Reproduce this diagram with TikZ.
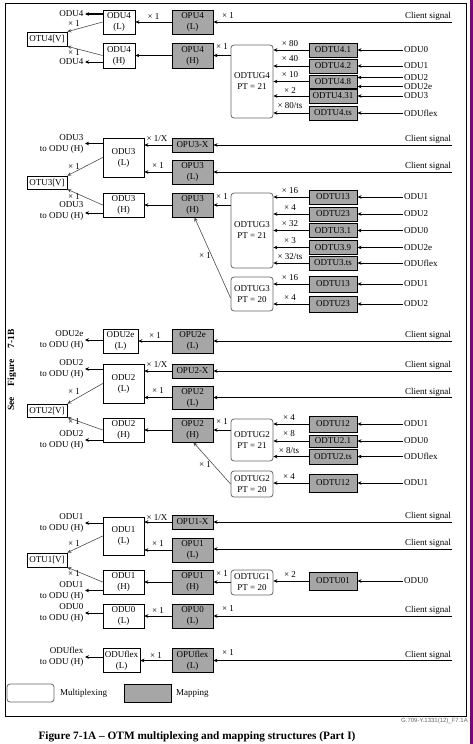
\documentclass[tikz,border=0pt]{standalone}
\usepackage{fontspec}
\setmainfont{Liberation Serif}
\newfontfamily\tagfont{Liberation Sans}
\usetikzlibrary{arrows.meta,positioning,calc}
\definecolor{mapgray}{RGB}{166,166,166}
\definecolor{edgepurple}{RGB}{128,0,128}
\newcommand{\fs}{\fontsize{9}{11}\selectfont}
\tikzset{
  odu/.style={draw,fill=white,align=center,inner sep=0pt,line width=0.7pt},
  opu/.style={odu,fill=mapgray,line width=1pt},
  odtug/.style={draw=black!60,rounded corners=3pt,align=center,inner sep=0pt,
                line width=0.8pt,minimum width=42pt},
  odtu/.style={opu,minimum width=48pt,minimum height=14pt},
  otu/.style={draw,inner sep=1pt,minimum width=40pt,minimum height=14pt,line width=0.7pt},
  ar/.style={-{Stealth[length=4pt,width=3.6pt]},line width=0.6pt},
  arb/.style={ar,line width=1.6pt},
  dg/.style={ar,draw=black!70},
  mul/.style={inner sep=0pt},
  sig/.style={anchor=south east,inner sep=1pt},
  inp/.style={anchor=west,inner sep=1.5pt},
  outp/.style={align=right,anchor=east,inner sep=1.5pt},
}

\begin{document}
\begin{tikzpicture}[x=1pt,y=-1pt,font=\fs]
    \useasboundingbox (0,0) rectangle (473,744);
    \draw[line width=0.8pt] (5,3) rectangle (466,716);
    \fill[edgepurple] (469.5,0) rectangle (473,744);

    % ODU4 branch
    \node[odu,minimum width=32pt,minimum height=24pt] (odu4l) at (119,22) {ODU4\\(L)};
    \node[opu,minimum width=41pt,minimum height=24pt] (opu4l) at (192.5,22) {OPU4\\(L)};
    \node[odu,minimum width=32pt,minimum height=25pt] (odu4h) at (119,55.5) {ODU4\\(H)};
    \node[opu,minimum width=41pt,minimum height=25pt] (opu4h) at (192.5,55.5) {OPU4\\(H)};
    \node[otu] (otu4) at (47,39) {OTU4[V]};
    \node[outp] (o4a) at (85,14) {ODU4};
    \node[outp] (o4b) at (85,62) {ODU4};
    \draw[arb] (odu4l.west |- o4a.east) -- (o4a.east);
    \draw[ar] (odu4h.west |- o4b.east) -- (o4b.east);
    \draw[dg] (odu4l.west) -- (otu4.north east);
    \draw[dg] (odu4h.west) -- (otu4.south east);
    \node[mul] (m4a) at (74,24) {× 1};
    \node[mul] (m4b) at (74,53) {× 1};
    \draw[ar] (opu4l) -- (odu4l) node[mul,midway,above=2pt] (m4c) {× 1};
    \draw[ar] (opu4h) -- (odu4h);
    \node[sig] (c4) at (452,22) {Client signal};
    \draw[ar] (c4.south east) -- (opu4l.east |- c4.south east);
    \node[mul] (m4d) at (228,16) {× 1};
    % ODTUG4
    \node[odtug,minimum height=73pt] (odtug4) at (252,81.5) {ODTUG4\\PT = 21};
    \draw[ar] (odtug4.west |- opu4h.east) -- (opu4h.east);
    \node[mul] (m4e) at (222,47) {× 1};
    \node[odtu] (odtu41) at (333,50) {ODTU4.1};
    \node[odtu] (odtu42) at (333,66) {ODTU4.2};
    \node[odtu,minimum height=13pt] (odtu48) at (333,81.5) {ODTU4.8};
    \node[odtu] (odtu431) at (333,96) {ODTU4.31};
    \node[odtu] (odtu4ts) at (333,113) {ODTU4.ts};
    \foreach \n/\m/\ly in {odtu41/{× 80}/44,odtu42/{× 40}/59,odtu48/{× 10}/75,
                           odtu431/{× 2}/91,odtu4ts/{× 80/ts}/106}{
      \draw[ar] (\n) -- (odtug4.east |- \n);
      \node[mul] (m-\n) at (290,\ly) {\m};
    }
    \node[inp] (i41) at (402.5,50) {ODU0};
    \node[inp] (i42) at (402.5,66) {ODU1};
    \node[inp] (i48a) at (402.5,77.5) {ODU2};
    \node[inp] (i48b) at (402.5,86.5) {ODU2e};
    \node[inp] (i431) at (402.5,96) {ODU3};
    \node[inp] (i4ts) at (402.5,113) {ODUflex};
    \foreach \i/\n in {i41/odtu41,i42/odtu42,i48a/odtu48,i48b/odtu48,i431/odtu431,i4ts/odtu4ts}
      \draw[ar] (\i.west) -- (\n.east |- \i.west);

    % ODU3 branch
    \node[odu,minimum width=41pt,minimum height=39pt] (odu3l) at (123.5,157.5) {ODU3\\(L)};
    \node[opu,minimum width=41pt,minimum height=14pt] (opu3x) at (192.5,145) {OPU3-X};
    \node[opu,minimum width=41pt,minimum height=24pt] (opu3l) at (192.5,172) {OPU3\\(L)};
    \node[odu,minimum width=41pt,minimum height=24pt] (odu3h) at (123.5,205) {ODU3\\(H)};
    \node[opu,minimum width=41pt,minimum height=24pt] (opu3h) at (192.5,205) {OPU3\\(H)};
    \node[otu,minimum height=13pt] (otu3) at (47,182.5) {OTU3[V]};
    \node[outp] (o3a) at (85,143.5) {ODU3\\to ODU (H)};
    \node[outp] (o3b) at (85,211) {ODU3\\to ODU (H)};
    \draw[ar] (odu3l.west |- o3a.east) -- (o3a.east);
    \draw[ar] (odu3h.west |- 0,213) -- (o3b.east |- 0,213);
    \draw[dg] (odu3l.west) -- (otu3.north east);
    \draw[dg] (odu3h.west) -- (otu3.south east);
    \node[mul] (m3a) at (74,167) {× 1};
    \node[mul] (m3b) at (74,197) {× 1};
    \draw[ar] (opu3x.west) -- (odu3l.east |- opu3x.west);
    \node[mul] (m3c) at (157,139) {× 1/X};
    \draw[ar] (opu3l.west) -- (odu3l.east |- opu3l.west);
    \node[mul] (m3d) at (158,166) {× 1};
    \draw[ar] (opu3h) -- (odu3h);
    \node[sig] (c3a) at (452,145) {Client signal};
    \node[sig] (c3b) at (452,172) {Client signal};
    \draw[ar] (c3a.south east) -- (opu3x.east |- c3a.south east);
    \draw[ar] (c3b.south east) -- (opu3l.east |- c3b.south east);
    % ODTUG3 (PT = 21)
    \node[odtug,minimum height=75pt] (odtug3a) at (252,230.5) {ODTUG3\\PT = 21};
    \draw[ar] (odtug3a.west |- opu3h.east) -- (opu3h.east);
    \node[mul] (m3e) at (222,197) {× 1};
    \node[odtu] (odtu13a) at (333,197) {ODTU13};
    \node[odtu] (odtu23a) at (333,214) {ODTU23};
    \node[odtu] (odtu31) at (333,230.5) {ODTU3.1};
    \node[odtu] (odtu39) at (333,247.5) {ODTU3.9};
    \node[odtu] (odtu3ts) at (333,263) {ODTU3.ts};
    \foreach \n/\m/\ly in {odtu13a/{× 16}/191,odtu23a/{× 4}/208,odtu31/{× 32}/224,
                           odtu39/{× 3}/241,odtu3ts/{× 32/ts}/257}{
      \draw[ar] (\n) -- (odtug3a.east |- \n);
      \node[mul] (m-\n) at (290,\ly) {\m};
    }
    \node[inp] (i13a) at (402.5,197) {ODU1};
    \node[inp] (i23a) at (402.5,214) {ODU2};
    \node[inp] (i31) at (402.5,230.5) {ODU0};
    \node[inp] (i39) at (402.5,247.5) {ODU2e};
    \node[inp] (i3ts) at (402.5,263) {ODUflex};
    % ODTUG3 (PT = 20)
    \node[odtug,minimum height=34pt] (odtug3b) at (252,294) {ODTUG3\\PT = 20};
    \node[odtu,minimum height=16pt] (odtu13b) at (333,284) {ODTU13};
    \node[odtu,minimum height=16pt] (odtu23b) at (333,304) {ODTU23};
    \foreach \n/\m/\ly in {odtu13b/{× 16}/278,odtu23b/{× 4}/298}{
      \draw[ar] (\n) -- (odtug3b.east |- \n);
      \node[mul] (m-\n) at (290,\ly) {\m};
    }
    \node[inp] (i13b) at (402.5,284) {ODU1};
    \node[inp] (i23b) at (402.5,304) {ODU2};
    \foreach \i/\n in {i13a/odtu13a,i23a/odtu23a,i31/odtu31,i39/odtu39,i3ts/odtu3ts,
                       i13b/odtu13b,i23b/odtu23b}
      \draw[ar] (\i.west) -- (\n.east |- \i.west);
    \draw[dg] ([yshift=-4pt]odtug3b.west) -- ([xshift=2pt]opu3h.south);
    \node[mul] (m3f) at (205,256) {× 1};

    % side note
    \node[rotate=90,font=\fontsize{9.5}{11}\selectfont\bfseries] (seefig) at (12,370)
      {See\hspace{11pt}Figure\hspace{11pt}7-1B};

    % ODU2 branch
    \node[odu,minimum width=35pt,minimum height=24pt] (odu2el) at (120.5,341) {ODU2e\\(L)};
    \node[opu,minimum width=41pt,minimum height=24pt] (opu2el) at (192.5,341) {OPU2e\\(L)};
    \node[outp] (o2e) at (85,340) {ODU2e\\to ODU (H)};
    \draw[ar] (odu2el.west |- o2e.east) -- (o2e.east);
    \draw[ar] (opu2el) -- (odu2el) node[mul,midway,above=2pt] (m2a) {× 1};
    \node[sig] (c2a) at (452,341) {Client signal};
    \draw[ar] (c2a.south east) -- (opu2el.east |- c2a.south east);
    \node[odu,minimum width=41pt,minimum height=39pt] (odu2l) at (123.5,383.5) {ODU2\\(L)};
    \node[opu,minimum width=41pt,minimum height=14pt] (opu2x) at (192.5,371) {OPU2-X};
    \node[opu,minimum width=41pt,minimum height=23pt] (opu2l) at (192.5,397.5) {OPU2\\(L)};
    \node[odu,minimum width=41pt,minimum height=24pt] (odu2h) at (123.5,430) {ODU2\\(H)};
    \node[opu,minimum width=41pt,minimum height=24pt] (opu2h) at (192.5,430) {OPU2\\(H)};
    \node[otu,minimum height=13pt] (otu2) at (47,410.5) {OTU2[V]};
    \node[outp] (o2a) at (85,369) {ODU2\\to ODU (H)};
    \node[outp] (o2b) at (85,440) {ODU2\\to ODU (H)};
    \draw[ar] (odu2l.west |- o2a.east) -- (o2a.east);
    \draw[ar] (odu2h.west |- o2b.east) -- (o2b.east);
    \draw[dg] (odu2l.west) -- (otu2.north east);
    \draw[dg] (odu2h.west) -- (otu2.south east);
    \node[mul] (m2b) at (74,392) {× 1};
    \node[mul] (m2c) at (74,422) {× 1};
    \draw[ar] (opu2x.west) -- (odu2l.east |- opu2x.west);
    \node[mul] (m2d) at (157,365) {× 1/X};
    \draw[ar] (opu2l.west) -- (odu2l.east |- opu2l.west);
    \node[mul] (m2e) at (158,391) {× 1};
    \draw[ar] (opu2h) -- (odu2h);
    \node[sig] (c2b) at (452,371) {Client signal};
    \node[sig] (c2c) at (452,397.5) {Client signal};
    \draw[ar] (c2b.south east) -- (opu2x.east |- c2b.south east);
    \draw[ar] (c2c.south east) -- (opu2l.east |- c2c.south east);
    % ODTUG2 (PT = 21)
    \node[odtug,minimum height=42pt] (odtug2a) at (252,440) {ODTUG2\\PT = 21};
    \draw[ar] (odtug2a.west |- opu2h.east) -- (opu2h.east);
    \node[mul] (m2f) at (222,422) {× 1};
    \node[odtu,minimum height=16pt] (odtu12a) at (333,424) {ODTU12};
    \node[odtu,minimum height=12pt] (odtu21) at (333,441) {ODTU2.1};
    \node[odtu,minimum height=15pt] (odtu2ts) at (333,456.5) {ODTU2.ts};
    \foreach \n/\m/\ly in {odtu12a/{× 4}/418,odtu21/{× 8}/434,odtu2ts/{× 8/ts}/451}{
      \draw[ar] (\n) -- (odtug2a.east |- \n);
      \node[mul] (m-\n) at (289,\ly) {\m};
    }
    \node[inp] (i12a) at (402.5,424) {ODU1};
    \node[inp] (i21) at (402.5,441) {ODU0};
    \node[inp] (i2ts) at (402.5,456.5) {ODUflex};
    % ODTUG2 (PT = 20)
    \node[odtug,minimum height=26pt] (odtug2b) at (252,484) {ODTUG2\\PT = 20};
    \node[odtu,minimum height=18pt] (odtu12b) at (333,483) {ODTU12};
    \draw[ar] (odtu12b) -- (odtug2b.east |- odtu12b);
    \node[mul] (m-odtu12b) at (289,477) {× 4};
    \node[inp] (i12b) at (402.5,483) {ODU1};
    \foreach \i/\n in {i12a/odtu12a,i21/odtu21,i2ts/odtu2ts,i12b/odtu12b}
      \draw[ar] (\i.west) -- (\n.east |- \i.west);
    \draw[dg] (odtug2b.west) -- ([xshift=1pt]opu2h.south);
    \node[mul] (m2g) at (205,465) {× 1};

    % ODU1 branch
    \node[odu,minimum width=41pt,minimum height=38pt] (odu1l) at (123.5,536) {ODU1\\(L)};
    \node[opu,minimum width=41pt,minimum height=14pt] (opu1x) at (192.5,522) {OPU1-X};
    \node[opu,minimum width=41pt,minimum height=24pt] (opu1l) at (192.5,550) {OPU1\\(L)};
    \node[odu,minimum width=41pt,minimum height=24pt] (odu1h) at (123.5,582) {ODU1\\(H)};
    \node[opu,minimum width=41pt,minimum height=24pt] (opu1h) at (192.5,582) {OPU1\\(H)};
    \node[otu] (otu1) at (47,560) {OTU1[V]};
    \node[outp] (o1a) at (85,523) {ODU1\\to ODU (H)};
    \node[outp] (o1b) at (85,590.5) {ODU1\\to ODU (H)};
    \draw[ar] (odu1l.west |- o1a.east) -- (o1a.east);
    \draw[arb] (odu1h.west |- o1b.east) -- (o1b.east);
    \draw[dg] (odu1l.west) -- (otu1.north east);
    \draw[dg] (odu1h.west) -- (otu1.south east);
    \node[mul] (m1a) at (74,544) {× 1};
    \node[mul] (m1b) at (74,574) {× 1};
    \draw[ar] (opu1x.west) -- (odu1l.east |- opu1x.west);
    \node[mul] (m1c) at (157,518) {× 1/X};
    \draw[ar] (opu1l.west) -- (odu1l.east |- opu1l.west);
    \node[mul] (m1d) at (158,544) {× 1};
    \draw[ar] (opu1h) -- (odu1h);
    \node[sig] (c1a) at (452,522) {Client signal};
    \node[sig] (c1b) at (452,549) {Client signal};
    \draw[ar] (c1a.south east) -- (opu1x.east |- c1a.south east);
    \draw[ar] (c1b.south east) -- (opu1l.east |- c1b.south east);
    % ODTUG1
    \node[odtug,minimum height=25pt] (odtug1) at (252,582.5) {ODTUG1\\PT = 20};
    \draw[ar] (odtug1.west |- opu1h.east) -- (opu1h.east);
    \node[mul] (m1e) at (222,574) {× 1};
    \node[odtu,minimum height=18pt] (odtu01) at (333,581) {ODTU01};
    \draw[ar] (odtu01) -- (odtug1.east |- odtu01);
    \node[mul] (m-odtu01) at (290,575) {× 2};
    \node[inp] (i01) at (402.5,581) {ODU0};
    \draw[ar] (i01.west) -- (odtu01.east |- i01.west);

    % ODU0 branch
    \node[odu,minimum width=41pt,minimum height=24pt] (odu0l) at (123.5,616) {ODU0\\(L)};
    \node[opu,minimum width=41pt,minimum height=24pt] (opu0l) at (192.5,616) {OPU0\\(L)};
    \node[outp] (o0) at (85,613) {ODU0\\to ODU (H)};
    \draw[ar] (odu0l.west |- o0.east) -- (o0.east);
    \draw[ar] (opu0l) -- (odu0l) node[mul,midway,above=2pt] (m0a) {× 1};
    \node[sig] (c0) at (452,616) {Client signal};
    \draw[ar] (c0.south east) -- (opu0l.east |- c0.south east);
    \node[mul] (m0b) at (228,609) {× 1};

    % ODUflex branch
    \node[odu,minimum width=37pt,minimum height=24pt] (oduflexl) at (121.5,660.5) {ODUflex\\(L)};
    \node[opu,minimum width=41pt,minimum height=24pt] (opuflexl) at (192.5,660.5) {OPUflex\\(L)};
    \node[outp] (oflex) at (85,657) {ODUflex\\to ODU (H)};
    \draw[ar] (oduflexl.west |- oflex.east) -- (oflex.east);
    \draw[ar] (opuflexl) -- (oduflexl) node[mul,midway,above=2pt] (mfa) {× 1};
    \node[sig] (cflex) at (452,660.5) {Client signal};
    \draw[ar] (cflex.south east) -- (opuflexl.east |- cflex.south east);
    \node[mul] (mfb) at (228,653) {× 1};

    % legend
    \node[odtug,minimum width=47pt,minimum height=18pt] (lgmux) at (30.5,693) {};
    \node[anchor=west,inner sep=0pt] (lgmuxt) at (60,693) {Multiplexing};
    \node[opu,minimum width=47pt,minimum height=18pt] (lgmap) at (147.5,693) {};
    \node[anchor=west,inner sep=0pt] (lgmapt) at (176,693) {Mapping};

    \node[anchor=east,inner sep=0pt,font=\tagfont\fontsize{6}{7}\selectfont,text=black!60]
      (figtag) at (468,721) {G.709-Y.1331(12)\_F7.1A};
    \node[font=\fontsize{11.3}{13}\selectfont\bfseries] (caption) at (197,737)
      {Figure 7-1A – OTM multiplexing and mapping structures (Part I)};
\end{tikzpicture}
\end{document}
